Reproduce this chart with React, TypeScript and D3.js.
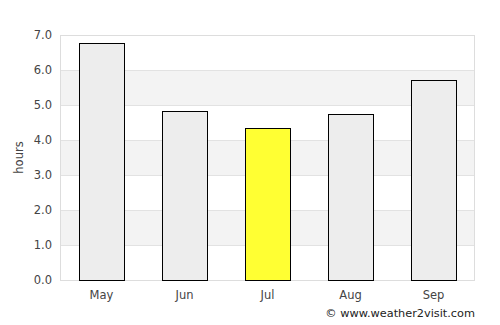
import React from "react";
import * as d3 from "d3";

const months = ["May", "Jun", "Jul", "Aug", "Sep"];
const hours = [6.77, 4.83, 4.33, 4.74, 5.71];
const highlight = "Jul";
const yTicks = [0, 1, 2, 3, 4, 5, 6, 7];
const bands = [[1, 2], [3, 4], [5, 6]];

const W = 500, H = 325;
const M = { left: 60, right: 25, top: 35, bottom: 45 };

export default function App() {
  const x = d3.scaleBand().domain(months).range([M.left, W - M.right]).paddingInner(0.458).paddingOuter(0.229);
  const y = d3.scaleLinear().domain([0, 7]).range([H - M.bottom, M.top]);
  const font = "DejaVu Sans, sans-serif";
  return (
    <svg width={W} height={H} style={{ position: "absolute", left: 0, top: 0 }} fontFamily={font}>
      <rect x={0} y={0} width={W} height={H} fill="#fff" />
      {bands.map(([a, b]) => (
        <rect key={a} x={M.left} y={y(b)} width={W - M.right - M.left} height={y(a) - y(b)} fill="#f3f3f3" />
      ))}
      {yTicks.map((t) => (
        <line key={t} x1={M.left} x2={W - M.right} y1={y(t) + 0.5} y2={y(t) + 0.5} stroke="#e2e2e2" />
      ))}
      <rect x={M.left + 0.5} y={M.top + 0.5} width={W - M.right - M.left - 1} height={y(0) - M.top} fill="none" stroke="#dddddd" />
      {months.map((m, i) => (
        <rect key={m} x={Math.round(x(m)!) + 0.5} y={Math.round(y(hours[i])) + 0.5} width={Math.round(x.bandwidth())}
          height={y(0) - Math.round(y(hours[i]))} fill={m === highlight ? "#ffff33" : "#ededed"} stroke="#000" strokeWidth={1} />
      ))}
      {yTicks.map((t) => (
        <text key={t} x={M.left - 8} y={y(t)} dy="0.35em" textAnchor="end" fontSize={11.5} fill="#444">{t.toFixed(1)}</text>
      ))}
      {months.map((m) => (
        <text key={m} x={x(m)! + x.bandwidth() / 2} y={299} textAnchor="middle" fontSize={11.5} fill="#444">{m}</text>
      ))}
      <text transform={`translate(23,${(M.top + y(0)) / 2}) rotate(-90)`} textAnchor="middle" fontSize={11.5} fill="#444">hours</text>
      <text x={W - M.right} y={317} textAnchor="end" fontSize={11.3} fill="#222">© www.weather2visit.com</text>
    </svg>
  );
}
